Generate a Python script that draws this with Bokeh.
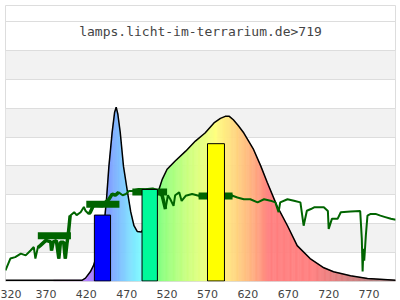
import math
from bokeh.plotting import figure
from bokeh.models import FixedTicker, Label
from bokeh.embed import file_html
from bokeh.resources import INLINE

# ---- data ----
title_text = "lamps.licht-im-terrarium.de>719"
x_ticks = [320, 370, 420, 470, 520, 570, 620, 670, 720, 770]

spec_nm = [320, 415, 419, 425, 429, 441, 445, 448, 452, 455, 457, 459, 462, 466, 471, 475, 479, 483,
           488, 497, 503, 510, 514, 520, 530, 543, 555, 567, 578, 586, 592, 597, 602, 608, 615, 627,
           636, 644, 656, 669, 681, 697, 714, 726, 747, 768, 803]
spec_val = [0.3, 0.3, 1.0, 3.2, 5.4, 16.4, 28.4, 39.9, 51.6, 58.5, 60.4, 58.0, 51.6, 39.9, 30.9, 24.0, 19.2, 17.2,
            17.0, 20.9, 26.7, 31.9, 35.3, 38.8, 41.7, 45.1, 48.6, 51.4, 54.9, 56.5, 57.2, 57.2, 56.0, 54.0, 51.4, 45.7,
            39.9, 34.2, 26.1, 19.2, 12.3, 7.8, 4.6, 3.2, 1.8, 0.9, 0.3]

sun_nm = [320, 326, 332, 339, 345, 351, 355, 357, 360, 363, 370, 376, 377, 379, 383, 386, 388, 392, 394, 396,
          398, 400, 405, 408, 413, 417, 419, 423, 425, 429, 440, 444, 448, 452, 456, 460, 465, 469, 473, 479,
          485, 493, 502, 508, 514, 518, 521, 524, 528, 530, 535, 538, 543, 551, 559, 568, 580, 591, 601, 607,
          615, 623, 632, 640, 648, 654, 658, 660, 669, 677, 685, 689, 693, 698, 702, 714, 719, 720, 724, 731,
          735, 747, 759, 761, 762, 763, 764, 766, 768, 772, 778, 784, 790, 797, 803]
sun_val = [3.7, 7.8, 8.3, 9.5, 8.9, 10.6, 11.8, 7.8, 11.6, 12.3, 14.1, 13.6, 10.6, 13.6, 14.0, 7.8, 13.5, 13.5, 7.8, 12.9,
           17.0, 22.7, 23.9, 22.9, 23.9, 25.7, 24.4, 23.3, 23.9, 26.4, 26.1, 27.4, 28.4, 30.2, 29.8, 30.8, 29.8, 30.2, 31.3, 31.3,
           31.7, 31.6, 31.9, 31.3, 29.6, 25.0, 29.8, 28.4, 26.1, 29.8, 30.8, 27.8, 29.6, 30.2, 29.6, 29.6, 29.5, 29.5, 29.6, 29.0,
           28.4, 28.4, 27.3, 28.4, 27.9, 27.3, 23.9, 27.3, 28.4, 27.9, 27.3, 19.2, 24.4, 25.0, 25.6, 25.6, 24.3, 18.1, 21.6, 21.6,
           23.9, 24.1, 24.3, 14.7, 3.3, 11.2, 7.1, 15.8, 22.7, 23.3, 23.3, 22.7, 22.2, 21.6, 21.3]

win_lo = [360, 420, 477, 559]
win_hi = [401, 461, 520, 601]
win_val = [15.7, 26.7, 30.9, 29.5]

bar_lo = [430, 489, 570]
bar_hi = [450, 508, 591]
bar_val = [22.9, 31.8, 47.7]
bar_colors = ["#0000FF", "#00FA9A", "#FFFF00"]

X0, X1 = 320, 802.7
Y0, Y1 = -0.17, 95.69
grid_step = 10


def wl_color(w):
    w = min(w, 780.0)
    if w < 380:
        return "#ffffff"
    if w < 440:
        r, g, b = -(w - 440) / 60.0, 0.0, 1.0
    elif w < 490:
        r, g, b = 0.0, (w - 440) / 50.0, 1.0
    elif w < 510:
        r, g, b = 0.0, 1.0, -(w - 510) / 20.0
    elif w < 580:
        r, g, b = (w - 510) / 70.0, 1.0, 0.0
    elif w < 645:
        r, g, b = 1.0, -(w - 645) / 65.0, 0.0
    else:
        r, g, b = 1.0, 0.0, 0.0
    if w < 420:
        f = 0.3 + 0.7 * (w - 380) / 40.0
    elif w <= 700:
        f = 1.0
    else:
        f = 0.3 + 0.7 * (780 - w) / 80.0
    out = []
    for c in (r, g, b):
        c = (c * f) ** 0.8 if c > 0 else 0.0
        out.append(int(round(255 * (0.5 + 0.5 * c))))
    return "#%02x%02x%02x" % tuple(out)


p = figure(width=400, height=300, x_range=(X0, X1), y_range=(Y0, Y1),
           min_border_left=5, min_border_right=5, min_border_top=5, min_border_bottom=17,
           output_backend="svg", toolbar_location=None, y_axis_location=None)
p.background_fill_color = "white"
p.border_fill_color = "white"
p.outline_line_color = "#dddddd"

# alternating background bands (grey on every second grid interval)
band_bottoms = list(range(grid_step, 90, 2 * grid_step))
p.quad(left=X0, right=X1, bottom=band_bottoms, top=[b + grid_step for b in band_bottoms],
       fill_color="#f2f2f2", line_color=None, level="image")

p.xgrid.visible = False
p.ygrid.ticker = FixedTicker(ticks=list(range(0, 100, grid_step)))
p.ygrid.grid_line_color = "#dddddd"

ax = p.xaxis[0]
ax.ticker = FixedTicker(ticks=x_ticks)
ax.axis_line_color = None
ax.major_tick_line_color = None
ax.minor_tick_line_color = None
ax.major_tick_out = 0
ax.major_tick_in = 0
ax.major_label_standoff = 8
ax.major_label_text_font = "DejaVu Sans"
ax.major_label_text_font_size = "11px"
ax.major_label_text_color = "#444444"

# coloured fill under the lamp spectrum: each straight segment of the outline is cut into thin slices
xs, ys, cols = [], [], []
for i in range(len(spec_nm) - 1):
    x0, x1 = spec_nm[i], spec_nm[i + 1]
    y0, y1 = spec_val[i], spec_val[i + 1]
    n = max(1, int(math.ceil((x1 - x0) / 1.5)))
    for k in range(n):
        ta, tb = k / n, (k + 1) / n
        xa, xb = x0 + (x1 - x0) * ta, x0 + (x1 - x0) * tb
        ya, yb = y0 + (y1 - y0) * ta, y0 + (y1 - y0) * tb
        xs.append([xa, xa, xb, xb])
        ys.append([0, ya, yb, 0])
        cols.append(wl_color((xa + xb) / 2))
p.patches(xs, ys, fill_color=cols, line_color=cols, line_width=0.6)
p.line(spec_nm, spec_val, line_color="black", line_width=1.5)

# daylight reference line
p.line(sun_nm, sun_val, line_color="#006400", line_width=2)
for lo, hi in zip(win_lo, win_hi):
    sx = [x for x in sun_nm if lo <= x <= hi]
    sy = [y for x, y in zip(sun_nm, sun_val) if lo <= x <= hi]
    p.line(sx, sy, line_color="#006400", line_width=3.5)
p.segment(x0=win_lo, y0=win_val, x1=win_hi, y1=win_val, line_color="#006400", line_width=7, line_cap="butt")

# lamp bars
p.quad(left=bar_lo, right=bar_hi, bottom=[0] * len(bar_lo), top=bar_val,
       fill_color=bar_colors, line_color="black", line_width=1)

p.add_layout(Label(x=(X0 + X1) / 2, y=86.5, text=title_text, text_font="DejaVu Sans Mono",
                   text_font_size="13px", text_color="#444444", text_align="center",
                   text_baseline="middle"))

open("out.html", "w").write(file_html(p, INLINE))
